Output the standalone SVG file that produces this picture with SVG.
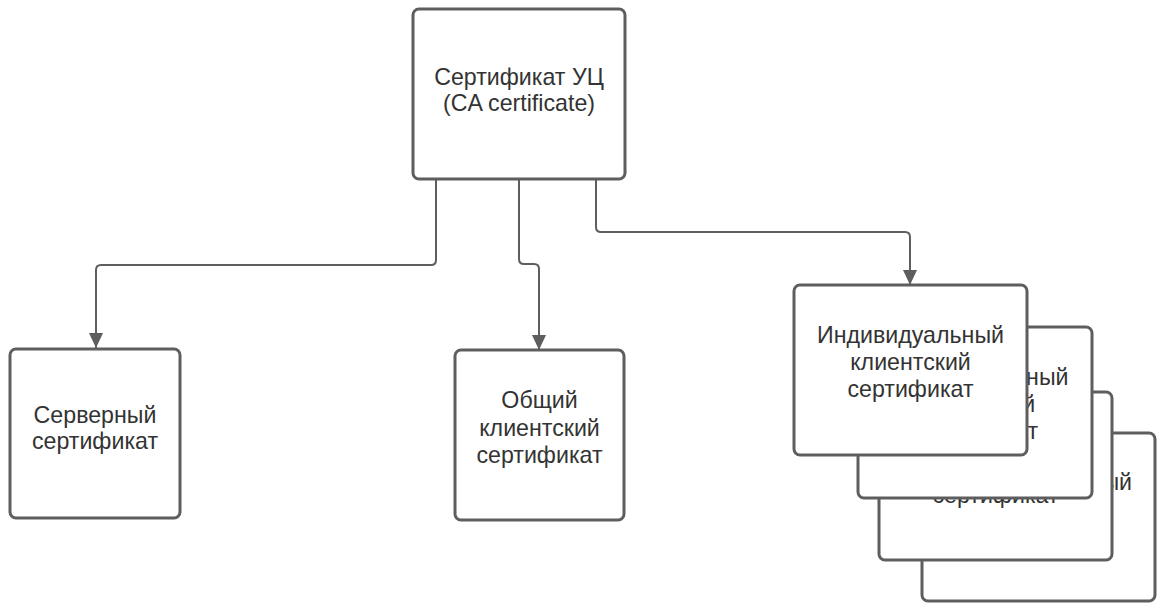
<svg xmlns="http://www.w3.org/2000/svg" width="1160" height="603" viewBox="0 0 1160 603">
<defs>
<style>
.box{fill:#ffffff;stroke:#5e5e5e;stroke-width:3;}
.lbl{font-family:"Liberation Sans",Arial,sans-serif;font-size:23.2px;fill:#333333;text-anchor:middle;}
.conn{fill:none;stroke:#5e5e5e;stroke-width:2;}
</style>
<marker id="arr" markerUnits="userSpaceOnUse" markerWidth="16" markerHeight="16" viewBox="0 0 16 16" refX="15" refY="7" orient="auto">
<path d="M0,0 L15,7 L0,14 Z" fill="#5e5e5e"/>
</marker>
</defs>
<rect width="1160" height="603" fill="#ffffff"/>
<g id="connectors">
<path class="conn" d="M436,180 V260 Q436,265 431,265 H101 Q96,265 96,270 V348" marker-end="url(#arr)"/>
<path class="conn" d="M519,180 V259 Q519,264 524,264 H534 Q539,264 539,269 V350" marker-end="url(#arr)"/>
<path class="conn" d="M596,180 V227 Q596,232 601,232 H905 Q910,232 910,237 V285" marker-end="url(#arr)"/>
</g>
<g id="ca">
<rect class="box" x="413" y="9" width="212" height="170" rx="6"/>
<text class="lbl" x="519" y="85">Сертификат УЦ</text>
<text class="lbl" x="519" y="111">(CA certificate)</text>
</g>
<g id="server">
<rect class="box" x="10" y="349" width="170" height="169" rx="6"/>
<text class="lbl" x="95" y="423">Серверный</text>
<text class="lbl" x="95" y="449">сертификат</text>
</g>
<g id="common">
<rect class="box" x="455" y="350" width="169" height="170" rx="6"/>
<text class="lbl" x="539.5" y="408">Общий</text>
<text class="lbl" x="539.5" y="436">клиентский</text>
<text class="lbl" x="539.5" y="463">сертификат</text>
</g>
<g id="individual4">
<rect class="box" x="922" y="433" width="233" height="168" rx="6"/>
<text class="lbl" x="1038.5" y="490">Индивидуальный</text>
<text class="lbl" x="1038.5" y="517">клиентский</text>
<text class="lbl" x="1038.5" y="544">сертификат</text>
</g>
<g id="individual3">
<rect class="box" x="879" y="392" width="233" height="168" rx="6"/>
<text class="lbl" x="995.5" y="449">Индивидуальный</text>
<text class="lbl" x="995.5" y="476">клиентский</text>
<text class="lbl" x="995.5" y="503">сертификат</text>
</g>
<g id="individual2">
<rect class="box" x="858" y="327" width="234" height="171" rx="6"/>
<text class="lbl" x="975" y="385">Индивидуальный</text>
<text class="lbl" x="975" y="412">клиентский</text>
<text class="lbl" x="975" y="439">сертификат</text>
</g>
<g id="individual1">
<rect class="box" x="794" y="285" width="233" height="170" rx="6"/>
<text class="lbl" x="910.5" y="343">Индивидуальный</text>
<text class="lbl" x="910.5" y="370">клиентский</text>
<text class="lbl" x="910.5" y="397">сертификат</text>
</g>
</svg>
